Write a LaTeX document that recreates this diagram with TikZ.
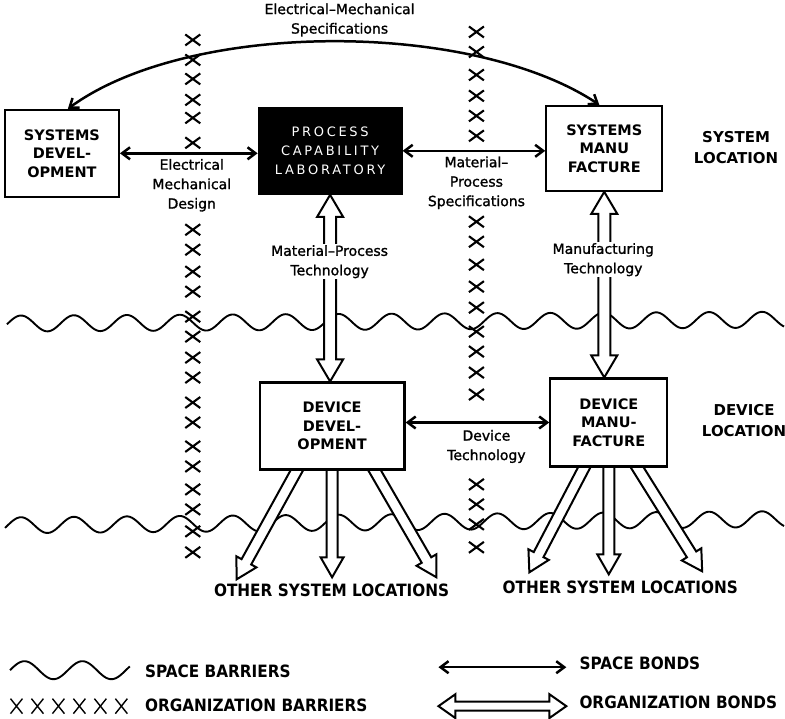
\documentclass[tikz,border=0pt]{standalone}
\usepackage{fontspec}
\setmainfont{DejaVu Sans}
\newfontfamily\spacedfont[LetterSpace=21]{DejaVu Sans}
\newfontfamily\narrowfont[FakeStretch=0.9]{DejaVu Sans}
\newfontfamily\notefont[FakeBold=1.3]{DejaVu Sans}
\usetikzlibrary{arrows.meta,calc}
\pgfdeclarelayer{background}
\pgfdeclarelayer{arrows}
\pgfsetlayers{background,arrows,main}

% hollow double-headed bond: name, from, to, shaft half width, head half width, head length
\newcommand{\twohead}[6]{%
  \coordinate (#1-a) at ($(#2)!#6!(#3)$);
  \coordinate (#1-b) at ($(#3)!#6!(#2)$);
  \draw[hollowbond] (#2) -- ($(#1-a)!#5!90:(#3)$) -- ($(#1-a)!#4!90:(#3)$)
    -- ($(#1-b)!#4!-90:(#2)$) -- ($(#1-b)!#5!-90:(#2)$) -- (#3)
    -- ($(#1-b)!#5!90:(#2)$) -- ($(#1-b)!#4!90:(#2)$)
    -- ($(#1-a)!#4!-90:(#3)$) -- ($(#1-a)!#5!-90:(#3)$) -- cycle;
}
% hollow single-headed bond: name, tail, tip, shaft half width, head half width, head length
\newcommand{\onehead}[6]{%
  \coordinate (#1-b) at ($(#3)!#6!(#2)$);
  \draw[hollowbond] ($(#2)!#4!90:(#3)$) -- ($(#1-b)!#4!-90:(#2)$)
    -- ($(#1-b)!#5!-90:(#2)$) -- (#3) -- ($(#1-b)!#5!90:(#2)$)
    -- ($(#1-b)!#4!90:(#2)$) -- ($(#2)!#4!-90:(#3)$) -- cycle;
}

\tikzset{
  unitbox/.style={draw=black, line width=2.2pt, fill=white, align=center, inner sep=0pt,
    font=\fontsize{14.5}{18.5}\selectfont\bfseries},
  labbox/.style={unitbox, fill=black, text=white, font=\spacedfont\fontsize{13}{19}\selectfont},
  notetext/.style={align=center, inner sep=1pt, font=\notefont\fontsize{14}{19.5}\selectfont},
  placetext/.style={align=center, inner sep=0pt, font=\fontsize{15}{21}\selectfont\bfseries},
  captext/.style={inner sep=0pt, font=\narrowfont\bfseries\fontsize{17}{20}\selectfont},
  bondline/.style={line width=2.5pt,
    {Straight Barb[length=8pt,width=12pt]}-{Straight Barb[length=8pt,width=12pt]}},
  hollowbond/.style={draw=black, line width=2pt, fill=white, line join=miter},
  wavepath/.style={line width=1.9pt},
  xstroke/.style={line width=2.1pt},
  barrier/.pic={\draw[xstroke] (-7.5,-5.5) -- (7.5,5.5) (-7.5,5.5) -- (7.5,-5.5);}
}

\begin{document}
\begin{tikzpicture}[x=1pt,y=-1pt]
\begin{pgfonlayer}{background}
  \fill[white] (0,0) rectangle (785,719);
  % space barriers between the system and device levels and below
  \draw[wavepath] plot[domain=7:785, samples=400, smooth]
    (\x, {324 - 0.005*\x - 8*sin(6.7925*(\x-7.75))});
  \draw[wavepath] plot[domain=5:785, samples=400, smooth]
    (\x, {526 - 0.008*\x - 8*sin(6.7925*(\x-7.75))});
\end{pgfonlayer}
\useasboundingbox (0,0) rectangle (785,719);

% units
\node[unitbox, minimum width=114pt, minimum height=87pt] (sd) at (62,153.5) {SYSTEMS\\DEVEL-\\OPMENT};
\node[labbox, minimum width=143pt, minimum height=86pt] (pcl) at (330.5,151) {PROCESS\\CAPABILITY\\LABORATORY};
\node[unitbox, minimum width=116pt, minimum height=85pt] (sm) at (605,148.5) {SYSTEMS\\MANU\\FACTURE};
\node[unitbox, minimum width=145pt, minimum height=87pt] (dd) at (332.5,426.5) {DEVICE\\DEVEL-\\OPMENT};
\node[unitbox, minimum width=117pt, minimum height=88pt] (dm) at (609.5,423) {DEVICE\\MANU-\\FACTURE};

% level names
\node[placetext] (sysloc) at (737,148) {SYSTEM\\LOCATION};
\node[placetext] (devloc) at (745,421) {DEVICE\\LOCATION};

% organization barriers
\foreach \yy in {40,60,79,100,118,143,230,250,272,292,317,337,358,378,403,423,447,467,490,510,532,553}
  \pic at (193,\yy) {barrier};
\foreach \yy in {32,52,75,96,116,136,222,242,265,287,308,332,352,373,395,485,505,525,548}
  \pic at (477,\yy) {barrier};

% space bonds
\draw[bondline] (sd.east) -- (sd.east -| pcl.west);
\draw[bondline] (pcl.east) -- (pcl.east -| sm.west);
\draw[bondline] (dm.west -| dd.east) -- (dm.west);
\draw[bondline] ([xshift=6pt]sd.north) .. controls (190,20) and (472,20) .. ([xshift=-5pt]sm.north);

% end points of the organization bonds
\coordinate (pdtop) at (pcl.south);
\coordinate (pdbot) at (pcl.south |- dd.north);
\coordinate (mdtop) at (sm.south);
\coordinate (mdbot) at (sm.south |- dm.north);
\coordinate (ddLt) at ([xshift=-31pt,yshift=8pt]dd.south);
\coordinate (ddMt) at ([yshift=8pt]dd.south);
\coordinate (ddRt) at ([xshift=38pt,yshift=8pt]dd.south);
\coordinate (ddLh) at (237,580);
\coordinate (ddMh) at (332.5,578);
\coordinate (ddRh) at (437,578);
\coordinate (dmLt) at ([xshift=-20.5pt,yshift=8pt]dm.south);
\coordinate (dmMt) at ([yshift=8pt]dm.south);
\coordinate (dmRt) at ([xshift=23.5pt,yshift=8pt]dm.south);
\coordinate (dmLh) at (530,573);
\coordinate (dmMh) at (609.5,575);
\coordinate (dmRh) at (703,572);

\begin{pgfonlayer}{arrows}
  \twohead{pd}{pdtop}{pdbot}{6pt}{13pt}{22pt}
  \twohead{md}{mdtop}{mdbot}{6pt}{13pt}{22pt}
  \onehead{ddl}{ddLt}{ddLh}{5.5pt}{11.5pt}{20pt}
  \onehead{ddm}{ddMt}{ddMh}{5.5pt}{11.5pt}{20pt}
  \onehead{ddr}{ddRt}{ddRh}{5.5pt}{11.5pt}{20pt}
  \onehead{dml}{dmLt}{dmLh}{5.5pt}{11.5pt}{20pt}
  \onehead{dmm}{dmMt}{dmMh}{5.5pt}{11.5pt}{20pt}
  \onehead{dmr}{dmRt}{dmRh}{5.5pt}{11.5pt}{20pt}
\end{pgfonlayer}

% bond labels
\node[notetext] (tspec) at (340,20) {Electrical–Mechanical\\Specifications};
\node[notetext] (tdes) at (192,185.5) {Electrical\\Mechanical\\Design};
\node[notetext] (tmps) at (477,183) {Material–\\Process\\Specifications};
\node[notetext, fill=white] (tmpt) at (330,262) {Material–Process\\Technology};
\node[notetext, fill=white] (tmt) at (604,260) {Manufacturing\\Technology};
\node[notetext] (tdt) at (487,447) {Device\\Technology};

\node[captext] (osl1) at (332,591) {OTHER SYSTEM LOCATIONS};
\node[captext] (osl2) at (621,588) {OTHER SYSTEM LOCATIONS};

% legend
\draw[wavepath] plot[domain=10:130, samples=120, smooth] (\x, {671 - 9*sin(6.2069*(\x-10))});
\foreach \xx in {16.5,37.5,58.5,79.5,100.5,121.5}
  \draw[line width=1.4pt] (\xx-6,699.5) -- (\xx+6,714.5) (\xx-6,714.5) -- (\xx+6,699.5);
\node[captext, anchor=west] (lgsb) at (145,672) {SPACE BARRIERS};
\node[captext, anchor=west] (lgob) at (145,706) {ORGANIZATION BARRIERS};

\coordinate (sb1) at (439,668);
\coordinate (sb2) at (567,668);
\draw[bondline] (sb1) -- (sb2);
\coordinate (ob1) at (439,707);
\coordinate (ob2) at (567,707);
\twohead{ob}{ob1}{ob2}{4.5pt}{12pt}{17pt}
\node[captext, anchor=west] (lgsbo) at (580,664) {SPACE BONDS};
\node[captext, anchor=west] (lgobo) at (580,703) {ORGANIZATION BONDS};
\end{tikzpicture}
\end{document}
